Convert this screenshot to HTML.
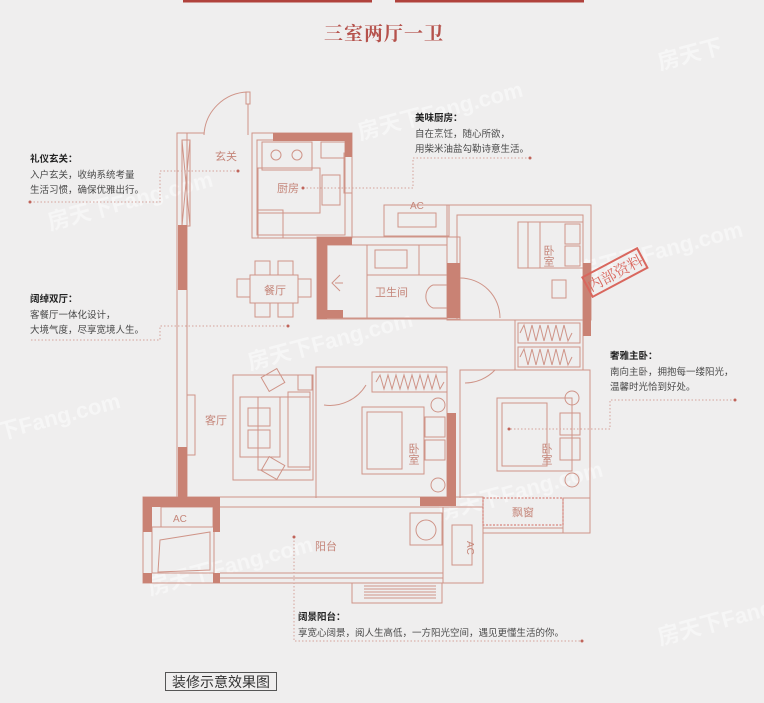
<!DOCTYPE html>
<html><head><meta charset="utf-8"><style>
html,body{margin:0;padding:0;background:#efeeee;}
svg{display:block}
.t{font-family:"Liberation Sans","Noto Sans CJK SC",sans-serif;}
</style></head><body>
<svg width="764" height="703" viewBox="0 0 764 703" xmlns="http://www.w3.org/2000/svg" class="t">
<rect width="764" height="703" fill="#efeeee"/>
<!-- watermarks -->
<g fill="#ffffff" opacity="0.45" font-size="22" font-weight="bold" font-family="Liberation Sans,Noto Sans CJK SC,sans-serif">
<text x="360" y="140" transform="rotate(-15 360 140)">房天下Fang.com</text>
<text x="50" y="230" transform="rotate(-15 50 230)">房天下Fang.com</text>
<text x="250" y="370" transform="rotate(-15 250 370)">房天下Fang.com</text>
<text x="0" y="440" transform="rotate(-15 0 440)">下Fang.com</text>
<text x="660" y="70" transform="rotate(-15 660 70)">房天下</text>
<text x="580" y="280" transform="rotate(-15 580 280)">房天下Fang.com</text>
<text x="150" y="595" transform="rotate(-15 150 595)">房天下Fang.com</text>
<text x="440" y="520" transform="rotate(-15 440 520)">房天下Fang.com</text>
<text x="660" y="645" transform="rotate(-15 660 645)">房天下Fang</text>
</g>
<rect x="183" y="0" width="189" height="2.5" fill="#b0423c"/>
<rect x="395" y="0" width="189" height="2.5" fill="#b0423c"/>
<text x="384" y="40" text-anchor="middle" font-family="Noto Serif CJK SC,serif" font-weight="bold" font-size="19" fill="#b5524c" letter-spacing="1">三室两厅一卫</text>

<g fill="none" stroke="#cf9488" stroke-width="1">
<rect x="177" y="133" width="10" height="365"/>
<rect x="182" y="140" width="8" height="86"/>
<path d="M182 140 L190 226 M190 140 L182 226"/>
<rect x="187" y="395" width="8" height="60"/>
<line x1="177" y1="133" x2="204" y2="133"/>
<path d="M204 135 A45 45 0 0 1 248 92"/>
<rect x="246" y="92" width="4" height="12"/>
<line x1="248" y1="104" x2="248" y2="135"/>
<rect x="252" y="133" width="100" height="105"/>
<rect x="257" y="140" width="88" height="95"/>
<rect x="262" y="142" width="50" height="28"/>
<circle cx="276" cy="155" r="5"/><circle cx="297" cy="155" r="5"/>
<rect x="258" y="168" width="62" height="45"/>
<rect x="322" y="175" width="18" height="30"/>
<rect x="321" y="142" width="24" height="16"/>
<rect x="258" y="210" width="25" height="28"/>
<rect x="344" y="153" width="8" height="40"/>
<rect x="384" y="205" width="65" height="31"/>
<rect x="398" y="213" width="38" height="14"/>
<rect x="317" y="237" width="143" height="82"/>
<rect x="327" y="245" width="40" height="73"/>
<rect x="367" y="245" width="52" height="30"/>
<rect x="375" y="250" width="32" height="18"/>
<rect x="367" y="275" width="80" height="43"/>
<rect x="419" y="245" width="28" height="30"/>
<path d="M447 285 L433 285 A10 12 0 0 0 433 308 L447 308"/>
<path d="M340 275 L332 283 L340 291 M335 283 L343 283"/>
<rect x="250" y="275" width="48" height="28"/>
<rect x="255" y="261" width="15" height="14"/><rect x="278" y="261" width="15" height="14"/>
<rect x="255" y="303" width="15" height="14"/><rect x="278" y="303" width="15" height="14"/>
<rect x="237" y="279" width="13" height="18"/><rect x="298" y="279" width="13" height="18"/>
<rect x="447" y="205" width="144" height="115"/>
<path d="M457 320 L457 215 L583 215 L583 320"/>
<rect x="518" y="222" width="65" height="46"/>
<rect x="528" y="222" width="12" height="46"/>
<rect x="565" y="224" width="15" height="20"/><rect x="565" y="246" width="15" height="20"/>
<rect x="552" y="280" width="14" height="18"/>
<path d="M460 278 A40 40 0 0 1 500 318"/>
<rect x="515" y="320" width="68" height="50"/>
<rect x="518" y="323" width="62" height="20"/><rect x="518" y="347" width="62" height="20"/>
<path d="M520 333 l4 -8 l4 16 l4 -16 l4 16 l4 -16 l4 16 l4 -16 l4 16 l4 -16 l4 16 l4 -16 l4 16 l4 -8 M520 357 l4 -8 l4 16 l4 -16 l4 16 l4 -16 l4 16 l4 -16 l4 16 l4 -16 l4 16 l4 -16 l4 16 l4 -8"/>
<rect x="233" y="375" width="80" height="105"/>
<rect x="258" y="397" width="52" height="73"/>
<rect x="240" y="397" width="40" height="60"/>
<rect x="248" y="408" width="22" height="18"/><rect x="248" y="430" width="22" height="18"/>
<rect x="288" y="392" width="22" height="75"/>
<rect x="298" y="375" width="14" height="15"/>
<rect x="264" y="372" width="18" height="16" transform="rotate(-30 273 380)"/>
<rect x="264" y="460" width="18" height="16" transform="rotate(30 273 468)"/>
<path d="M316 498 L316 367 L447 367 L447 498"/>
<rect x="372" y="372" width="75" height="20"/>
<path d="M376 382 l4 -7 l4 14 l4 -14 l4 14 l4 -14 l4 14 l4 -14 l4 14 l4 -14 l4 14 l4 -14 l4 14 l4 -14 l4 14 l4 -14 l4 14 l4 -7"/>
<path d="M324 405 A42 42 0 0 0 366 385"/>
<rect x="362" y="407" width="62" height="67"/>
<rect x="367" y="412" width="35" height="57"/>
<rect x="425" y="417" width="20" height="20"/><rect x="425" y="440" width="20" height="20"/>
<circle cx="438" cy="405" r="7"/><circle cx="438" cy="485" r="7"/>
<path d="M460 498 L460 370 L590 370 L590 498"/>
<path d="M465 383 A42 42 0 0 0 495 370"/>
<rect x="497" y="398" width="75" height="73"/>
<rect x="502" y="403" width="45" height="63"/>
<rect x="560" y="413" width="20" height="22"/><rect x="560" y="438" width="20" height="22"/>
<circle cx="572" cy="398" r="7"/><circle cx="572" cy="480" r="7"/>
<rect x="143" y="497" width="340" height="86"/>
<line x1="220" y1="507" x2="443" y2="507"/>
<line x1="220" y1="573" x2="443" y2="573"/>
<line x1="220" y1="578" x2="443" y2="578"/>
<rect x="161" y="507" width="52" height="20"/>
<rect x="152" y="527" width="62" height="46"/>
<path d="M160 540 L210 532 L210 570 L158 572 Z"/>
<rect x="410" y="513" width="32" height="32"/>
<circle cx="426" cy="530" r="10"/>
<rect x="443" y="507" width="40" height="76"/>
<rect x="452" y="525" width="20" height="40"/>
<rect x="352" y="583" width="90" height="20"/>
<path d="M364 586 H436 M364 589 H436 M364 592 H436 M364 595 H436 M364 598 H436"/>
<rect x="563" y="498" width="27" height="35"/>
<line x1="483" y1="528" x2="563" y2="528"/><line x1="483" y1="533" x2="563" y2="533"/>
</g>
<rect x="483" y="498" width="80" height="27" fill="none" stroke="#d06a60" stroke-dasharray="2 1.5"/>
<g fill="#c98274">
<rect x="178" y="225" width="9" height="65"/>
<rect x="178" y="447" width="9" height="51"/>
<rect x="273" y="133" width="79" height="8"/>
<rect x="345" y="133" width="7" height="24"/>
<rect x="317" y="237" width="10" height="82"/>
<rect x="317" y="237" width="35" height="8"/>
<rect x="317" y="310" width="26" height="8"/>
<rect x="447" y="263" width="13" height="55"/>
<rect x="583" y="263" width="8" height="73"/>
<rect x="447" y="413" width="9" height="85"/>
<rect x="420" y="497" width="36" height="9"/>
<rect x="143" y="497" width="77" height="10"/>
<rect x="143" y="497" width="9" height="35"/>
<rect x="213" y="497" width="7" height="35"/>
<rect x="143" y="573" width="9" height="10"/>
<rect x="213" y="573" width="7" height="10"/>
</g>
<g fill="#c5867a" font-size="11">
<text x="215" y="160">玄关</text>
<text x="277" y="192">厨房</text>
<text x="264" y="294">餐厅</text>
<text x="375" y="296">卫生间</text>
<text x="205" y="424">客厅</text>
<text x="315" y="550">阳台</text>
<text x="512" y="516">飘窗</text>
<text x="410" y="209" font-size="10">AC</text>
<text x="173" y="522" font-size="10">AC</text>
<text x="458" y="540" font-size="10" transform="rotate(90 462 545)">AC</text>
<text x="548" y="245" font-size="11" writing-mode="tb">卧室</text>
<text x="413" y="443" font-size="11" writing-mode="tb">卧室</text>
<text x="546" y="443" font-size="11" writing-mode="tb">卧室</text>
</g>
<g transform="rotate(-28 614 273)">
<rect x="584" y="262" width="62" height="22" fill="none" stroke="#d9675e" stroke-width="2"/>
<text x="615" y="279" text-anchor="middle" font-size="15" fill="#d9675e" font-family="Noto Serif CJK SC,serif">内部资料</text>
</g>
<g fill="none" stroke="#d4a29a" stroke-width="1" stroke-dasharray="1.5 2">
<path d="M30 202 H160 V171 H238"/>
<path d="M530 158 H413 V188 H303"/>
<path d="M288 326 H160 V340 H30"/>
<path d="M735 400 H610 V429 H509"/>
<path d="M294 537 V641 H582"/>
</g>
<g fill="#c0645a"><circle cx="30" cy="202" r="1.5"/><circle cx="238" cy="171" r="1.5"/><circle cx="530" cy="158" r="1.5"/><circle cx="303" cy="188" r="1.5"/><circle cx="288" cy="326" r="1.5"/><circle cx="735" cy="400" r="1.5"/><circle cx="509" cy="429" r="1.5"/><circle cx="294" cy="537" r="1.5"/><circle cx="582" cy="641" r="1.5"/></g>
<g font-size="9.5" fill="#4a4a4a">
<text x="30" y="162" font-weight="bold" fill="#222">礼仪玄关：</text>
<text x="30" y="178">入户玄关，收纳系统考量</text>
<text x="30" y="193">生活习惯，确保优雅出行。</text>
<text x="415" y="121" font-weight="bold" fill="#222">美味厨房：</text>
<text x="415" y="137">自在烹饪，随心所欲，</text>
<text x="415" y="152">用柴米油盐勾勒诗意生活。</text>
<text x="30" y="302" font-weight="bold" fill="#222">阔绰双厅：</text>
<text x="30" y="318">客餐厅一体化设计，</text>
<text x="30" y="333">大境气度，尽享宽境人生。</text>
<text x="610" y="359" font-weight="bold" fill="#222">奢雅主卧：</text>
<text x="610" y="375">南向主卧，拥抱每一缕阳光，</text>
<text x="610" y="390">温馨时光恰到好处。</text>
<text x="298" y="620" font-weight="bold" fill="#222">阔景阳台：</text>
<text x="298" y="636">享宽心阔景，阅人生高低，一方阳光空间，遇见更懂生活的你。</text>
</g>
<rect x="165.5" y="672.5" width="111" height="18" fill="none" stroke="#555" stroke-width="1"/>
<text x="221" y="687" text-anchor="middle" font-size="14" fill="#333">装修示意效果图</text>
</svg>
</body></html>
